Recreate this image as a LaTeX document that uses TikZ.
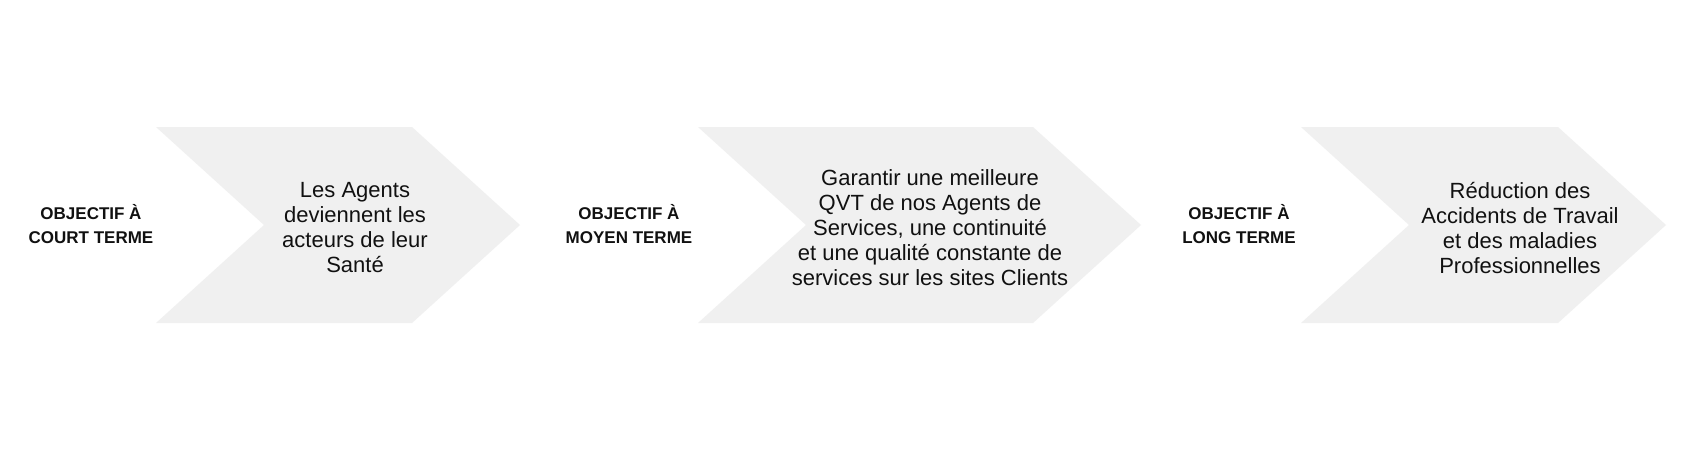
\documentclass[tikz,border=0pt]{standalone}
\usepackage{fontspec}
\setmainfont{Liberation Sans}
\definecolor{chevgray}{HTML}{F0F0F0}
\definecolor{txt}{HTML}{111111}
\begin{document}
\begin{tikzpicture}[x=1pt,y=-1pt,
  chev/.style={fill=chevgray,draw=none},
  bodytext/.style={font=\fontsize{22}{25}\selectfont,text=txt,align=center,inner sep=0pt},
  lbltext/.style={font=\fontsize{17}{24}\selectfont\bfseries,text=txt,align=center,inner sep=0pt}]
\useasboundingbox[fill=white] (0,0) rectangle (1687,451);
\newcommand\mychevron[2]{%
  \fill[chev] (#1,127) -- (#2,127) -- ({#2+108},225) -- (#2,323) -- (#1,323) -- ({#1+108},225) -- cycle;}
\mychevron{156}{412}
\mychevron{698}{1033}
\mychevron{1301}{1558}
\node[lbltext] (l1) at (91,224) {OBJECTIF À\\COURT TERME};
\node[lbltext] (l2) at (629,224) {OBJECTIF À\\MOYEN TERME};
\node[lbltext] (l3) at (1239,224) {OBJECTIF À\\LONG TERME};
\node[bodytext] (t1) at (355,228) {Les Agents\\deviennent les\\acteurs de leur\\Santé};
\node[bodytext] (t2) at (930,228) {Garantir une meilleure\\QVT de nos Agents de\\Services, une continuité\\et une qualité constante de\\services sur les sites Clients};
\node[bodytext] (t3) at (1520,228) {Réduction des\\Accidents de Travail\\et des maladies\\Professionnelles};
\end{tikzpicture}
\end{document}
